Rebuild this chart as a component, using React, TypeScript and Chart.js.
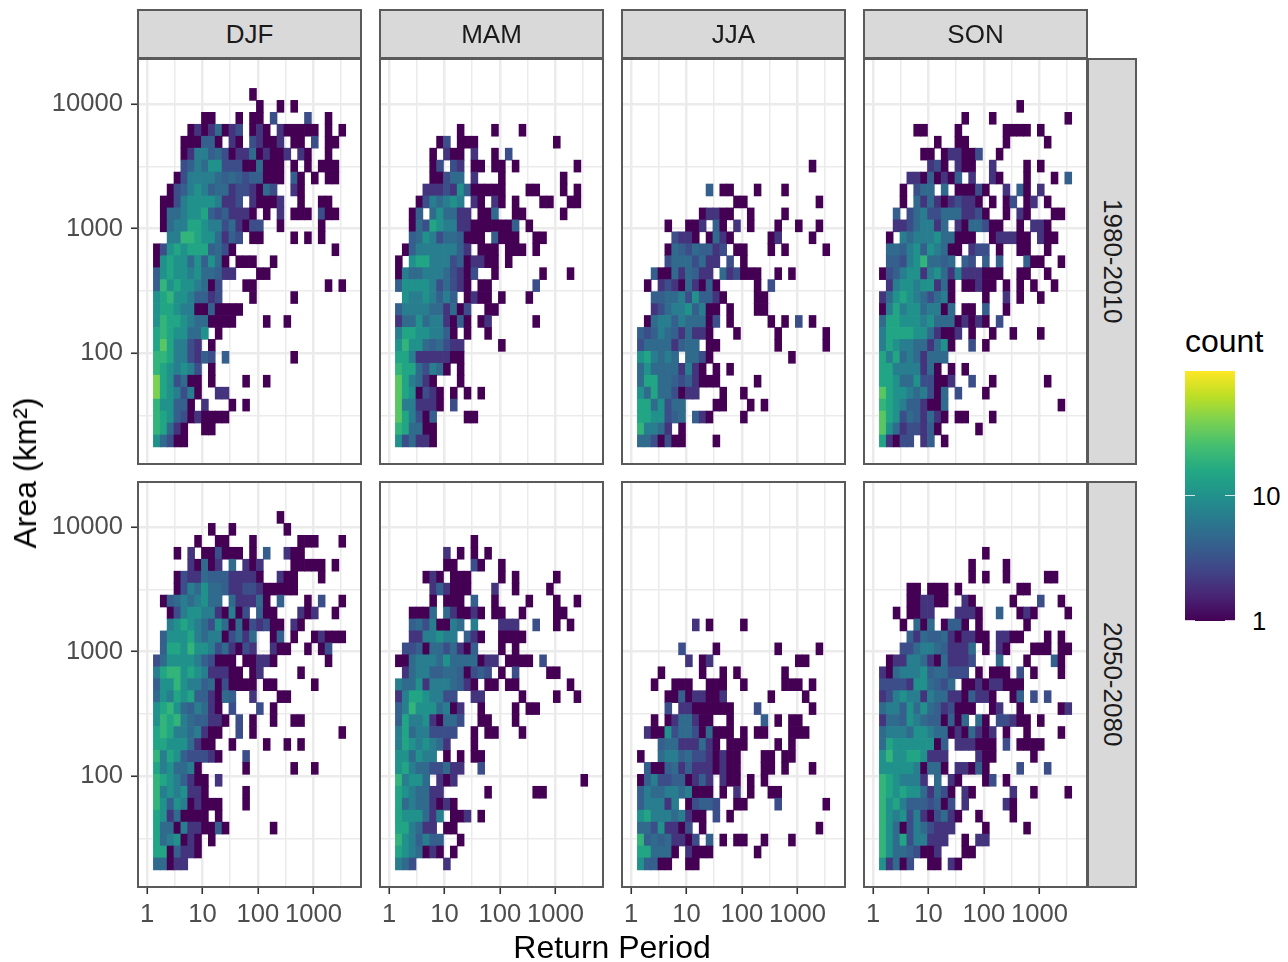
import { useEffect, useRef } from "react";
import Chart from "chart.js/auto";

// Binned counts, one string per area bin (top row first), one char per return-period bin.
// "." = empty, digits = count, a=10 c=15 d=20 f=30 g=40
const countKey: Record<string, number> = { "1": 1, "2": 2, "3": 3, "4": 4, "5": 5, "7": 7, a: 10, c: 15, d: 20, f: 30, g: 40 };

const djfEarly = [
  "..............1",
  "...............1..1.1",
  ".......11...1.11.3....3..1",
  ".....12125123.121.211111.1.1",
  "....111441.21.32112.11.3.11",
  "....1277453122512112.21..1",
  "....3475aa333115111.1.1.111",
  "...1377775454344111.41.1.11",
  "..1347a74552332153..21",
  ".1137aaaa7223.21112..1..11",
  ".1557aac4342221.1.2.111.311",
  ".1577cca77352133..1.....1",
  "..77ddcaa5243.11....1.1.1",
  "13acaccc4531..............1",
  "1acaa5a4a51.111..1",
  "4acaa7a55422...11",
  "4dacaa7513...11..........1.1",
  "acdaa74423....1.....1",
  "acca771141111",
  "adcca7551111....1..1",
  "cdcaa55a.1",
  "cfc7732.1",
  "ddc773243.4.........1",
  "dca7a73.1",
  "gca3511.1....1..1",
  "gca7371..22",
  "daa441.2...1.1",
  "dca43121111",
  "dc521..11",
  "a5311",
];

const mamEarly = [
  "",
  "",
  "",
  ".........1....1...1",
  "......13.111...........1",
  ".....1.211.2..1.3",
  ".....13.32.11.11.1........1",
  ".....11355.2...1........1",
  "....22232a411111...11...1.1",
  "...13757a7.21.21.1...11..11",
  "..14.5a5522.115..11.....1",
  "..153ca77221111114.1",
  "..45a73554111.4111..11",
  ".1477777742.111.111.1",
  "1.acc7773412211.1",
  "175577753213..1......1...1",
  "4aaaa735321.11......3",
  ".a77a7474.1211.1...1",
  "47777552513..11",
  "255a5772141.12......1",
  "7ccaa7741.1..1",
  "adaa545322.....1",
  "cc72222211",
  "dcc53751.1",
  "fc7521...1",
  "fca1321.1.1.1",
  "f772221.3",
  "fc7314....11",
  "dc5511",
  "a35221",
];

const jjaEarly = [
  "",
  "",
  "",
  "",
  "",
  "",
  ".........................1",
  "",
  "..........4.11...1...1",
  "..............11..........1",
  ".........12211..1....1",
  "....1..112.41.2.1...1..1..1",
  ".....3221.1521.....12....1",
  "....154354423.11...1.1.....1",
  "....35553522.3.1",
  "..411525422.523111..1.1",
  ".1.232152141.....1.3",
  "..445573a4421....11",
  "..23577a4711.1...11",
  ".15774755513.1.....1.1.3.1",
  "43475425221...1.....1......1",
  "355552455.11........1......1",
  "ac7575.5531...........1",
  "5a55552721.1.1",
  "5cc554342111.....1",
  "a5c553122...1..1",
  "cc5a355....11...1.1",
  "ccaa345.421....1",
  "d7752.1",
  "5531311....1",
];

const sonEarly = [
  "",
  "....................1",
  "............1...1..........1",
  ".....11....1......1111.1",
  "........1..11.....1.....1",
  "......11.122113..1",
  ".......231.211..2....1.1",
  "....22141214.2..21...1...1.4",
  "...1.355.5.11131..2.41.2",
  "...1.5252123221.1.13.12.1",
  "..4.357335552231..1.21...11",
  "..22357725.2155311..1.221",
  ".1.75777a55111..122211.211",
  ".5547a4a7511.233.1..11..1",
  ".4437ad5545.43.4.4...411..1",
  "1347aa27a527222111..11..1",
  ".27aa7aa251.11211.1.1.1..1",
  "25aca753571....1..2.1..1",
  "17c7aa57715.11.4..1",
  "5ccaaa7a55512121.3",
  "7ccccaa52112.1..1..1...1",
  "7ca775525a1..3.1",
  "c7c5752555",
  "cc7777251.1.1",
  "cca55a33112..3..1.......1",
  "fcaa757315.3...1",
  "dca7442115................1",
  "fca3542521.11...1",
  "fa5233241.....1",
  "c2133.24.1",
];

const djfLate = [
  "..................1",
  "........1..1.......1",
  "......1..11...1......111...1",
  "...1.2.113111.1.4..211",
  ".....21512.5.212....11111.1",
  "...1322544422221..211...1",
  "...1375a5542233211111",
  ".145757a55.522251.4...1.3..1",
  "..137aa7721713.411...212..1",
  "..7aca753a515132311.21",
  ".4aaac757713525..14.1..12111",
  ".4ccadaa7352132..211..1.13",
  "35aaaa743111.11221.......1",
  "7cddaca722211.12.....1",
  "4aada7745131111.11.....1",
  "5a7cac442154..2...11",
  "acda547521.3...3.1",
  "adcd7544221.3.1..1..11",
  "cdc7757211..3.1............1",
  "ccaaa5211..1....1..1.1",
  "d7ca433321...3",
  "c7a5571......1......1..1",
  "dca74211.2",
  "d7a7a221.....1",
  "da4a712111...1",
  "ca251111.1",
  "c5517221141......1",
  "c57a121.1",
  "cc14221",
  "55122",
];

const mamLate = [
  "",
  "",
  "...........1",
  ".......2.1.1.1",
  ".......11..31..1",
  "....121.111....1.1.....1",
  ".....242111...2..1....1",
  ".....1.111.4..1....1...1..1",
  "..1115.521121.11..1....11",
  "..45371175.7...222..3..1.1",
  "..2277a77.421..1111",
  ".33415535214...1.1",
  "1157775a5555122.1111.3",
  ".2577445541343.1.3....11",
  "755a27775421.11.11.......1",
  "27cca7733..22.....1....1..1",
  "47daaa5712..1....1.11",
  "4c77a21553..11...1",
  "7c5773333..1.11...1",
  "7ca7a752...1",
  "aa5a77.1.1.11",
  "ac75533522..3",
  "d7aa5.212..................1",
  "ca75522......1......11",
  "c57552121",
  "caaa527.112.1",
  "cc7522.11",
  "da74744..1",
  "ca75121.1",
  "753....2",
];

const jjaLate = [
  "",
  "",
  "",
  "",
  "",
  "",
  "",
  "",
  "",
  "........2.1....1",
  "",
  "......3....1........1.....1",
  ".......2.12............11",
  "...1.....1..1.1......1",
  "..1..111..111..1.....111.1",
  "....114122112......1....1",
  "....3.22111111...3.......1",
  "..1.1255211..1....4.1.11",
  ".211a355315111.1.11...111",
  "...455222521.111....1.1",
  "1..577453321211...11.11",
  ".41145242221211...11.1...1",
  "14733441242.211.1.1",
  "47557757111.1.2.1..11",
  "477727.13443..11....3......1",
  "ac77757211.3.1",
  "553a2213.1................1",
  "d45452213.4.1.11..1...1",
  "cc5551.2111......1",
  "a4411..11",
];

const sonLate = [
  "",
  "",
  "",
  "...............1",
  ".............1....1",
  ".............1.1..1.....11",
  "....11.111.1........11",
  "....112211..21.....1...3..1",
  "..1.1122...2221..4..121....1",
  "...1.515.1441.1......1",
  "....425445212211.2211...1.1",
  "...33577542225.1.21...111.11",
  ".1227752152223...5...1...41",
  "215777a455333.1.111.3.1...1",
  "33332aa5435.112122111",
  "237a7727552214221..14.3.3",
  "5774a5a5423111..12..1.....12",
  "2554a75441415.51.33211.1",
  "57775aa7551215212.1..1....1",
  "5caaaaaa14.222111.3.1111",
  "adaacca222....211.....1",
  "aaaaa71551.22141....3...3",
  "dca7772.5.21...13.1",
  "dcacaa52531.21.....2..1....1",
  "dac74443413.2.....21",
  "da7a37213521..1....1",
  "da513753222....1.....1",
  "da5c377222..1.22",
  "da5543112...11",
  "a2513..11.21",
];

const seasons = ["DJF", "MAM", "JJA", "SON"];
const periods = ["1980-2010", "2050-2080"];
const panels = [
  [djfEarly, mamEarly, jjaEarly, sonEarly],
  [djfLate, mamLate, jjaLate, sonLate],
];

const xMajor = [1, 10, 100, 1000];
const xMinor = [3.162, 31.62, 316.2, 3162];
const yMajor = [100, 1000, 10000];
const yMinor = [31.62, 316.2, 3162];

// log10 bin edges shared by all panels
const xBinStart = 0.115;
const xBinWidth = 0.1238;
const yBinStart = 1.249;
const yBinHeight = 0.0959;

const viridis = [
  "#440154", "#482475", "#414487", "#355f8d", "#2a788e", "#21918c",
  "#22a884", "#44bf70", "#7ad151", "#bddf26", "#fde725",
];

const font = "'Liberation Sans', Arial, sans-serif";

function hexToRgb(h: string) {
  return [1, 3, 5].map((i) => parseInt(h.slice(i, i + 2), 16));
}

function countColor(count: number) {
  const t = (Math.log10(count) / 2) * (viridis.length - 1);
  const i = Math.min(Math.floor(t), viridis.length - 2);
  const a = hexToRgb(viridis[i]);
  const b = hexToRgb(viridis[i + 1]);
  const f = t - i;
  return `rgb(${a.map((v, k) => Math.round(v + (b[k] - v) * f)).join(",")})`;
}

function buildCells(rows: string[]) {
  const data: { x: number; y: [number, number] }[] = [];
  const colors: string[] = [];
  rows.forEach((row, r) => {
    const rowFromBottom = rows.length - 1 - r;
    row.split("").forEach((ch, c) => {
      if (ch === ".") return;
      data.push({
        x: Math.pow(10, xBinStart + (c + 0.5) * xBinWidth),
        y: [
          Math.pow(10, yBinStart + rowFromBottom * yBinHeight),
          Math.pow(10, yBinStart + (rowFromBottom + 1) * yBinHeight),
        ],
      });
      colors.push(countColor(countKey[ch]));
    });
  });
  return { data, colors };
}

type PanelProps = { rows: string[]; left: number; top: number; showY: boolean; showX: boolean };

const PANEL_W = 224;
const PANEL_H = 405;
const Y_AXIS_W = 136;
const X_AXIS_H = 60;

function noPadding(s: any) {
  s.paddingLeft = 0;
  s.paddingRight = 0;
  s.paddingTop = 0;
  s.paddingBottom = 0;
}

function Panel({ rows, left, top, showY, showX }: PanelProps) {
  const ref = useRef<HTMLCanvasElement>(null);

  useEffect(() => {
    if (!ref.current) return;
    const { data, colors } = buildCells(rows);
    const chart = new Chart(ref.current, {
      type: "bar",
      data: {
        datasets: [{ data: data as any, backgroundColor: colors, barThickness: 6.9, borderWidth: 0 }],
      },
      options: {
        animation: false,
        responsive: false,
        layout: { padding: 0 },
        plugins: { legend: { display: false }, tooltip: { enabled: false } },
        scales: {
          x: {
            type: "logarithmic",
            min: 0.688,
            max: 7500,
            offset: false,
            afterFit: (s: any) => {
              s.height = showX ? X_AXIS_H : 0;
              noPadding(s);
            },
            afterBuildTicks: (s: any) => {
              s.ticks = [...xMajor, ...xMinor].sort((a, b) => a - b).map((value) => ({ value }));
            },
            border: { display: false },
            grid: {
              offset: false,
              drawTicks: showX,
              tickLength: 7,
              color: "#ebebeb",
              lineWidth: (c: any) => (xMajor.includes(c.tick?.value) ? 2.5 : 1.5),
              tickWidth: (c: any) => (xMajor.includes(c.tick?.value) ? 1.6 : 0),
              tickColor: "#333333",
            },
            ticks: {
              display: showX,
              autoSkip: false,
              maxRotation: 0,
              minRotation: 0,
              padding: 6,
              color: "#4d4d4d",
              font: { family: font, size: 25.6 },
              callback: (v: any) => (xMajor.includes(Number(v)) ? String(v) : ""),
            },
          },
          y: {
            type: "logarithmic",
            min: Math.pow(10, 1.112),
            max: Math.pow(10, 4.362),
            afterFit: (s: any) => {
              s.width = showY ? Y_AXIS_W : 0;
              noPadding(s);
            },
            afterBuildTicks: (s: any) => {
              s.ticks = [...yMajor, ...yMinor].sort((a, b) => a - b).map((value) => ({ value }));
            },
            border: { display: false },
            grid: {
              drawTicks: showY,
              tickLength: 7,
              color: "#ebebeb",
              lineWidth: (c: any) => (yMajor.includes(c.tick?.value) ? 2.5 : 1.5),
              tickWidth: (c: any) => (yMajor.includes(c.tick?.value) ? 1.6 : 0),
              tickColor: "#333333",
            },
            ticks: {
              display: showY,
              autoSkip: false,
              padding: 8,
              color: "#4d4d4d",
              font: { family: font, size: 25.6 },
              callback: (v: any) => (yMajor.includes(Number(v)) ? String(v) : ""),
            },
          },
        },
      },
    });
    return () => chart.destroy();
  }, [rows, showX, showY]);

  const canvasLeft = showY ? left - Y_AXIS_W : left;
  const width = showY ? PANEL_W + Y_AXIS_W : PANEL_W;
  const height = showX ? PANEL_H + X_AXIS_H : PANEL_H;

  return (
    <>
      <canvas
        ref={ref}
        width={width}
        height={height}
        style={{ position: "absolute", left: canvasLeft, top, width, height }}
      />
      <div style={{ ...boxStyle, left: left - 1, top: top - 1, width: PANEL_W + 1, height: PANEL_H + 2, background: "transparent" }} />
    </>
  );
}

const boxStyle: React.CSSProperties = {
  position: "absolute",
  boxSizing: "border-box",
  border: "2px solid #5a5a5a",
  background: "#d9d9d9",
};

const colLeft = [138, 380, 622, 864];
const rowTop = [59, 482];

export default function App() {
  const bar = `linear-gradient(to top, ${viridis.join(", ")})`;
  return (
    <div style={{ position: "absolute", left: 0, top: 0, width: 1288, height: 962, background: "#fff", overflow: "hidden", fontFamily: font }}>
      {panels.map((row, r) =>
        row.map((rows, c) => (
          <Panel key={`${r}-${c}`} rows={rows} left={colLeft[c]} top={rowTop[r]} showY={c === 0} showX={r === 1} />
        ))
      )}

      {seasons.map((s, c) => (
        <div
          key={s}
          style={{ ...boxStyle, left: colLeft[c] - 1, top: 9, width: PANEL_W + 1, height: 50, display: "flex", alignItems: "center", justifyContent: "center", fontSize: 26, color: "#1a1a1a" }}
        >
          {s}
        </div>
      ))}

      {periods.map((p, r) => (
        <div
          key={p}
          style={{ ...boxStyle, left: 1087, top: rowTop[r] - 1, width: 50, height: PANEL_H + 2, display: "flex", alignItems: "center", justifyContent: "center", writingMode: "vertical-rl", fontSize: 26, color: "#1a1a1a" }}
        >
          {p}
        </div>
      ))}

      <div style={{ position: "absolute", left: 412, width: 400, top: 929, textAlign: "center", fontSize: 32, lineHeight: "36px", color: "#000" }}>
        Return Period
      </div>
      <div style={{ position: "absolute", left: 25, top: 473, transform: "translate(-50%, -50%) rotate(-90deg)", whiteSpace: "nowrap", fontSize: 32, lineHeight: "36px", color: "#000" }}>
        Area (km²)
      </div>

      <div style={{ position: "absolute", left: 1185, top: 323, fontSize: 32, lineHeight: "36px", color: "#000" }}>count</div>
      <div style={{ position: "absolute", left: 1185, top: 371, width: 50, height: 250, background: bar }}>
        {[124, 249].map((y) => (
          <div key={y}>
            <div style={{ position: "absolute", left: 0, top: y - 0.5, width: 10, height: 1, background: "#ffffff", opacity: 0.8 }} />
            <div style={{ position: "absolute", right: 0, top: y - 0.5, width: 10, height: 1, background: "#ffffff", opacity: 0.8 }} />
          </div>
        ))}
      </div>
      <div style={{ position: "absolute", left: 1252, top: 481, fontSize: 25.6, lineHeight: "30px", color: "#000" }}>10</div>
      <div style={{ position: "absolute", left: 1252, top: 606, fontSize: 25.6, lineHeight: "30px", color: "#000" }}>1</div>
    </div>
  );
}
